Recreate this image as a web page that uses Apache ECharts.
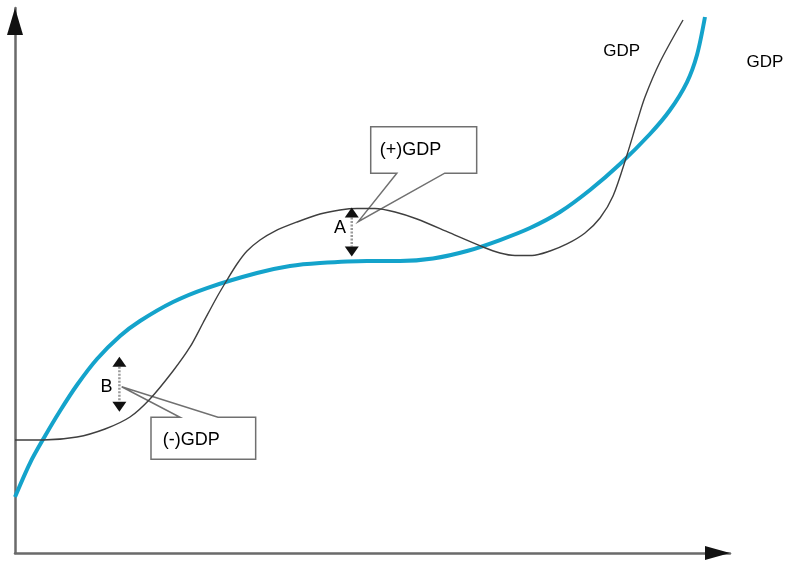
<!DOCTYPE html>
<html><head><meta charset="utf-8">
<script src="https://cdn.jsdelivr.net/npm/echarts@6/dist/echarts.min.js"></script>
<style>html,body{margin:0;padding:0;background:#fff}#c{width:789px;height:563px}</style>
</head><body><div id="c"></div>
<script>
// Potential GDP (thick blue curve)
const potentialX = [0,2.10,4.20,6.29,8.67,11.47,14.69,17.48,22.10,26.85,33.85,38.46,42.66,49.23,53.85,58.46,63.22,67.83,72.03,76.22,80.42,84.62,88.81,91.61,93.99,95.38,96.50];
const potentialY = [10.28,16.51,21.47,26.06,30.83,35.60,39.82,42.57,46.06,48.62,51.38,52.66,53.21,53.58,53.58,54.04,55.41,57.43,59.63,62.57,66.61,71.38,76.88,81.28,86.42,91.38,98.35];
// Actual GDP (thin black curve)
const actualX = [0,3.92,8.67,12.59,16.08,18.88,22.10,24.48,26.29,28.25,29.65,31.05,32.45,34.27,36.36,39.44,42.66,45.45,47.83,50.35,53.15,56.22,60.84,65.45,67.83,69.93,72.31,74.83,77.20,79.72,81.82,83.64,85.59,86.99,88.11,90.21,93.43];
const actualY = [20.73,20.73,21.28,22.75,24.95,28.26,33.39,37.80,42.20,46.97,50.09,53.03,55.41,57.43,59.08,60.73,62.20,62.94,63.21,63.21,62.57,61.28,58.72,56.15,55.05,54.59,54.59,55.41,56.70,58.72,61.47,65.50,73.03,79.08,83.67,90.09,97.80];
// Gap markers: label, x, top value, bottom value
const gapLabels = ['A','B'];
const gapX = [47.1, 14.6];
const gapTop = [63.4, 36.0];
const gapBottom = [54.4, 25.9];
const gapLabelAt = [[45.45,59.6],[12.8,30.5]];
// Callouts
const calloutText = ['(+)GDP','(-)GDP'];
const calloutBox = [[49.75,78.2,64.57,69.7],[19.02,24.9,33.66,17.2]];
const calloutBase = [[53.4,60.1],[23.08,28.39]];
const calloutTip = [[48.0,60.8],[14.92,30.5]];
const calloutSide = ['bottom','top'];
const calloutTextAt = [[51.0,73.9],[20.66,20.7]];
// Curve labels
const curveLabels = ['GDP','GDP'];
const curveLabelAt = [[84.85,92.0],[104.9,90.0]];

const FONT = '"Liberation Sans", Arial, sans-serif';
const chart = echarts.init(document.getElementById('c'), null, {renderer:'canvas'});
const zip = (a,b) => a.map((v,i)=>[v,b[i]]);

const hiddenAxis = (extra) => Object.assign({
  type:'value', min:0, max:100,
  axisLine:{show:true, onZero:false, lineStyle:{color:'#6a6a6a', width:2.5}},
  axisTick:{show:false}, axisLabel:{show:false}, splitLine:{show:false}
}, extra);

chart.setOption({
  animation:false,
  backgroundColor:'#fff',
  grid:{left:15, right:59, top:8, bottom:10, containLabel:false},
  xAxis: hiddenAxis({}),
  yAxis: hiddenAxis({}),
  series:[
    {
      type:'custom', z:1, clip:false, silent:true,
      data: calloutText.map((t,i)=>calloutTip[i]),
      renderItem:function(params, api){
        const i = params.dataIndex;
        const b = calloutBox[i];
        const tl = api.coord([b[0], b[1]]), br = api.coord([b[2], b[3]]);
        const edgeY = calloutSide[i]==='bottom' ? b[3] : b[1];
        const b1 = api.coord([calloutBase[i][0], edgeY]);
        const b2 = api.coord([calloutBase[i][1], edgeY]);
        const tip = api.coord(calloutTip[i]);
        let pts;
        if (calloutSide[i]==='bottom') {
          pts = [[tl[0],tl[1]],[br[0],tl[1]],[br[0],br[1]],b2,tip,b1,[tl[0],br[1]]];
        } else {
          pts = [[tl[0],tl[1]],b1,tip,b2,[br[0],tl[1]],[br[0],br[1]],[tl[0],br[1]]];
        }
        const t = api.coord(calloutTextAt[i]);
        return {type:'group', children:[
          {type:'polygon', shape:{points:pts}, style:{fill:'rgba(255,255,255,0)', stroke:'#707070', lineWidth:1.5}},
          {type:'text', x:t[0], y:t[1], style:{text:calloutText[i], font:'18px '+FONT, fill:'#000', align:'left', verticalAlign:'middle'}}
        ]};
      }
    },
    {
      type:'line', name:'potential', z:2, clip:false, symbol:'none', smooth:0.3,
      data: zip(potentialX, potentialY),
      lineStyle:{color:'#14a3cb', width:4}
    },
    {
      type:'line', name:'actual', z:3, clip:false, symbol:'none', smooth:0.3,
      data: zip(actualX, actualY),
      lineStyle:{color:'#3f3f3f', width:1.4}
    },
    {
      type:'custom', z:4, clip:false, silent:true,
      data: gapX.map((x,i)=>[x, gapTop[i]]),
      renderItem:function(params, api){
        const i = params.dataIndex;
        const top = api.coord([gapX[i], gapTop[i]]);
        const bot = api.coord([gapX[i], gapBottom[i]]);
        const lab = api.coord(gapLabelAt[i]);
        const hw = 7, hh = 10;
        return {type:'group', children:[
          {type:'line', shape:{x1:top[0], y1:top[1]+hh, x2:bot[0], y2:bot[1]-hh}, style:{stroke:'#9a9a9a', lineWidth:2.5, lineDash:[2,1.5]}},
          {type:'polygon', shape:{points:[[top[0],top[1]],[top[0]-hw,top[1]+hh],[top[0]+hw,top[1]+hh]]}, style:{fill:'#111'}},
          {type:'polygon', shape:{points:[[bot[0],bot[1]],[bot[0]-hw,bot[1]-hh],[bot[0]+hw,bot[1]-hh]]}, style:{fill:'#111'}},
          {type:'text', x:lab[0], y:lab[1], style:{text:gapLabels[i], font:'18px '+FONT, fill:'#000', align:'center', verticalAlign:'middle'}}
        ]};
      }
    },
    {
      type:'custom', z:4, clip:false, silent:true,
      data: curveLabelAt,
      renderItem:function(params, api){
        const p = api.coord(curveLabelAt[params.dataIndex]);
        return {type:'text', x:p[0], y:p[1], style:{text:curveLabels[params.dataIndex], font:'17px '+FONT, fill:'#000', align:'center', verticalAlign:'middle'}};
      }
    },
    {
      type:'custom', z:5, clip:false, silent:true,
      data: [[100,0],[0,100]],
      renderItem:function(params, api){
        const tip = api.coord(params.dataIndex===0 ? [100,0] : [0,100]);
        let pts;
        if (params.dataIndex===0) pts = [[tip[0],tip[1]],[tip[0]-25,tip[1]-7],[tip[0]-25,tip[1]+7]];
        else pts = [[tip[0],tip[1]],[tip[0]-8,tip[1]+27],[tip[0]+8,tip[1]+27]];
        return {type:'polygon', shape:{points:pts}, style:{fill:'#111'}};
      }
    }
  ]
});
</script></body></html>
